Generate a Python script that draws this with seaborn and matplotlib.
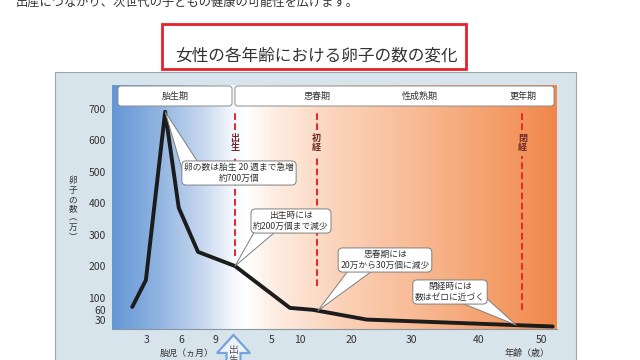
import numpy as np
import matplotlib
matplotlib.use("Agg")
import matplotlib.pyplot as plt
import seaborn as sns
from matplotlib.colors import LinearSegmentedColormap
from matplotlib.patches import Rectangle, FancyBboxPatch, Polygon
from matplotlib.transforms import Affine2D

# ---- データ（万個） ----
fetal_months = [1.7, 2.9, 4.6, 5.8, 7.5]      # 胎児（ヵ月）
fetal_counts = [70, 155, 690, 385, 245]
birth_count = 200
post_ages = [8.2, 12.5, 22.6, 51.9]             # 年齢（歳）
post_counts = [67, 61, 30, 8]

y_ticks = [30, 60, 100, 200, 300, 400, 500, 600, 700]
fetal_tick_months = [3, 6, 9]
age_ticks = [5, 10, 20, 30, 40, 50]

phase_labels = ["胎生期", "思春期", "性成熟期", "更年期"]
event_labels = ["出生", "初経", "閉経"]
event_ages = [0, 13.3, 47]
event_bottoms = [233, 138, 59]

callout_texts = [
    "卵の数は胎生 20 週まで急増\n約700万個",
    "出生時には\n約200万個まで減少",
    "思春期には\n20万から30万個に減少",
    "閉経時には\n数はゼロに近づく",
]
callout_ages = [None, 0, 13.5, 46]

top_note = "出産につながり、次世代の子どもの健康の可能性を広げます。"
title = "女性の各年齢における卵子の数の変化"

# 胎児の月数を年齢に換算（出生＝10ヵ月目）
def month_to_age(m):
    return (np.asarray(m, dtype=float) - 10) / 12

ages = np.concatenate([month_to_age(fetal_months), [0], post_ages])
counts = np.concatenate([fetal_counts, [birth_count], post_counts])

# 横軸は区間ごとに目盛り間隔が異なる（元図の定規に合わせる）
fetal_tick_ages = list(month_to_age(fetal_tick_months))
ruler_ages = [-0.84] + fetal_tick_ages + [0] + age_ticks + [52.6]
ruler_pos = [0, 35, 69, 103, 123, 160, 188, 239, 299, 367, 429, 445]

def fwd(a):
    return np.interp(a, ruler_ages, ruler_pos)

def inv(p):
    return np.interp(p, ruler_pos, ruler_ages)

# ---- スタイル ----
sns.set_style("white")
plt.rcParams['font.family'] = ['Noto Sans CJK JP', 'DejaVu Sans']
text_c = '#333333'

fig = plt.figure(figsize=(6.4, 3.6), dpi=100, facecolor='white')
pix = Affine2D().scale(1 / 640, -1 / 360).translate(0, 1) + fig.transFigure

# 外枠パネル
fig.add_artist(Rectangle((55, 72), 521, 300, transform=pix, fc='#d7e4eb',
                         ec='#9aa4ab', lw=0.8, zorder=-2))
# タイトル枠
fig.add_artist(Rectangle((162, 24), 304, 45, transform=pix, fc='white',
                         ec='#e8202a', lw=2.0, zorder=-1))
fig.text(316, 56, title, transform=pix, ha='center', va='center',
         fontsize=12, color=text_c)
fig.text(16, 2, top_note, transform=pix, ha='left', va='center',
         fontsize=8.8, color=text_c)

rect = [112 / 640, 31 / 360, 445 / 640, 244 / 360]

# 背景グラデーション
bg = fig.add_axes(rect, zorder=1)
cmap = LinearSegmentedColormap.from_list('bg', [
    (0.0, '#6497d6'), (0.10, '#8fb3e0'), (0.20, '#c6d7ef'), (0.27, '#f4f7fc'),
    (0.30, '#ffffff'), (0.36, '#fdeee4'), (0.50, '#fbd4bb'), (0.70, '#f8b892'),
    (0.88, '#f49c66'), (1.0, '#f0874a')])
bg.imshow(np.linspace(0, 1, 400)[None, :], cmap=cmap, aspect='auto',
          extent=[0, 1, 0, 1])
bg.axis('off')

ax = fig.add_axes(rect, zorder=2)
ax.patch.set_alpha(0)

sns.lineplot(x=ages, y=counts, ax=ax, color='#1c1c1c', linewidth=2.8,
             sort=False)
ax.set_xscale('function', functions=(fwd, inv))
ax.set_xlim(ruler_ages[0], ruler_ages[-1])
ax.set_ylim(0, 775)

ax.set_xticks(fetal_tick_ages + age_ticks)
ax.set_xticklabels([str(m) for m in fetal_tick_months] + [str(a) for a in age_ticks])
ax.set_yticks(y_ticks)
ax.set_yticklabels([str(v) for v in y_ticks])
ax.set_xlabel('')
ax.set_ylabel('')
ax.tick_params(axis='both', direction='out', length=2.5, width=0.6,
               color='#777777', labelsize=7.5, labelcolor=text_c, pad=2)
for s in ['top', 'right', 'left']:
    ax.spines[s].set_visible(False)
ax.spines['bottom'].set_color('#8a96a0')
ax.spines['bottom'].set_linewidth(0.8)

# 出生・初経・閉経の破線
for lab, a, bot in zip(event_labels, event_ages, event_bottoms):
    ax.vlines(a, 632, 690, color='#e62a2a', lw=1.45, linestyles=(0, (3.3, 1.7)))
    ax.vlines(a, bot, 550, color='#e62a2a', lw=1.45, linestyles=(0, (3.3, 1.7)))
    ax.text(a, 591, "\n".join(lab), ha='center', va='center', fontsize=6.5,
            fontweight='bold', color='#6e2a2a', linespacing=1.0)

# 吹き出し
peak = int(np.argmax(counts))
targets = [(ages[peak], counts[peak])]
for a in callout_ages[1:]:
    targets.append((a, float(np.interp(a, ages, counts))))
centers = [(239, 173), (291, 221), (385, 260), (450, 292)]
relposes = [(0.08, 0.55), (0.22, 0.35), (0.28, 0.3), (0.78, 0.3)]
for txt, xy, c, rp in zip(callout_texts, targets, centers, relposes):
    ax.annotate(txt, xy=xy, xycoords='data', xytext=c, textcoords=pix,
                ha='center', va='center', fontsize=6.3, color=text_c,
                linespacing=1.25,
                bbox=dict(boxstyle='round,pad=0.25,rounding_size=0.5',
                          fc='white', ec='#7f7f7f', lw=0.7),
                arrowprops=dict(arrowstyle='wedge,tail_width=1.4',
                                mutation_scale=10, fc='white', ec='#7f7f7f',
                                lw=0.7, relpos=rp, patchA=None,
                                shrinkA=0, shrinkB=0))

# 上部の時期ラベル
for x0, w in [(118, 114), (235, 319)]:
    fig.add_artist(FancyBboxPatch((x0, 86), w, 20, transform=pix,
                                  boxstyle='round,pad=0,rounding_size=3',
                                  fc='white', ec='#8c8c8c', lw=0.7, zorder=3))
for lab, x in zip(phase_labels, [175, 317, 420, 523]):
    fig.text(x, 96, lab, transform=pix, ha='center', va='center',
             fontsize=6.5, color=text_c, zorder=4)

# 軸ラベル
fig.text(73, 209, "卵\n子\nの\n数\n︵\n万\n︶", transform=pix, ha='center',
         va='center', fontsize=6.2, color=text_c, linespacing=1.05)
fig.text(187, 353, "胎児（ヵ月）", transform=pix, ha='center', va='center',
         fontsize=6.5, color=text_c)
fig.text(527, 353, "年齢（歳）", transform=pix, ha='center', va='center',
         fontsize=6.5, color=text_c)

# 出生の矢印
fig.add_artist(Polygon([(233.5, 335), (250, 353), (240.5, 353), (240.5, 365),
                        (226.5, 365), (226.5, 353), (217, 353)],
                       closed=True, transform=pix, fc='#eef3f8',
                       ec='#76a2da', lw=1.6, zorder=3))
fig.text(233.5, 345, "出\n生", transform=pix, ha='center', va='top',
         fontsize=7, color='#555555', linespacing=1.0, zorder=4)

fig.savefig('out.png', dpi=100, facecolor='white')
